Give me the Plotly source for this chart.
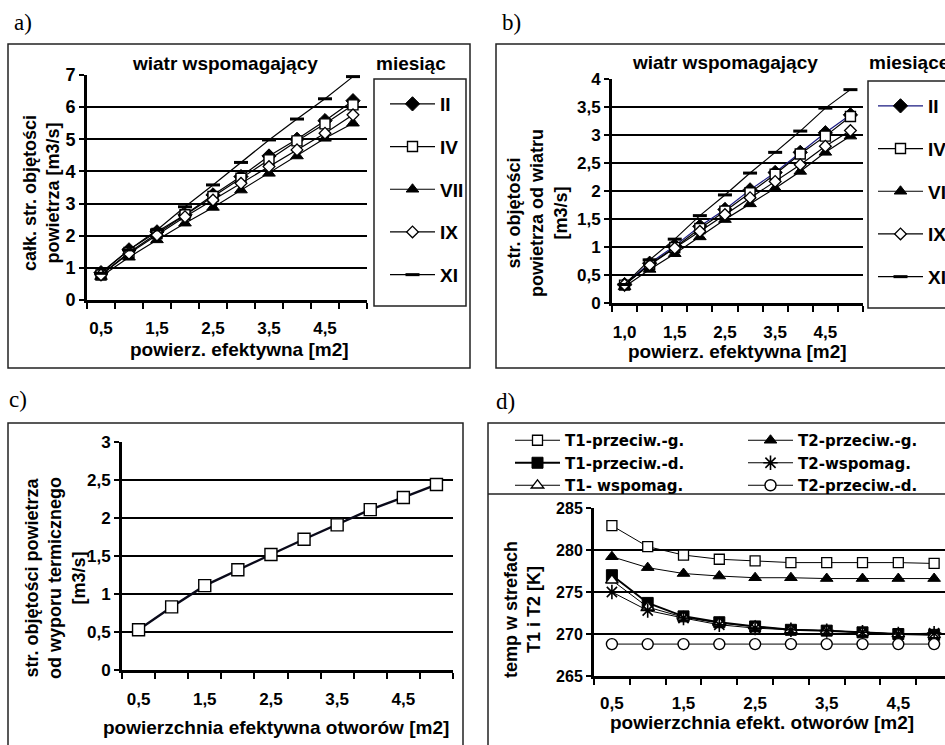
import plotly.graph_objects as go

W, H = 945, 745


def px(x):
    return x / W


def py(y):
    return 1 - y / H


# ---------------- data ----------------
area = [0.5, 1.0, 1.5, 2.0, 2.5, 3.0, 3.5, 4.0, 4.5, 5.0]
label_ticks = [0.5, 1.5, 2.5, 3.5, 4.5]
a_tick_labels = ["0,5", "1,5", "2,5", "3,5", "4,5"]
b_tick_labels = ["1,0", "1,5", "2,5", "3,5", "4,5"]
c_tick_labels = ["0,5", "1,5", "2,5", "3,5", "4,5"]
d_tick_labels = ["0,5", "1,5", "2,5", "3,5", "4,5"]

months = ["II", "IV", "VII", "IX", "XI"]

# a) total air volume flow, assisting wind [m3/s]
a_II = [0.85, 1.56, 2.12, 2.65, 3.27, 3.84, 4.48, 5.00, 5.58, 6.20]
a_IV = [0.78, 1.48, 2.07, 2.65, 3.22, 3.79, 4.36, 4.95, 5.48, 6.07]
a_VII = [0.73, 1.33, 1.87, 2.39, 2.88, 3.42, 3.94, 4.48, 5.03, 5.50]
a_IX = [0.78, 1.45, 2.02, 2.59, 3.11, 3.63, 4.15, 4.67, 5.19, 5.76]
a_XI = [0.83, 1.56, 2.18, 2.90, 3.58, 4.28, 4.98, 5.63, 6.26, 6.95]

# b) air volume flow from wind [m3/s]
b_II = [0.33, 0.71, 1.02, 1.37, 1.67, 2.02, 2.33, 2.69, 3.04, 3.36]
b_IV = [0.32, 0.69, 0.99, 1.33, 1.64, 1.97, 2.30, 2.66, 2.98, 3.33]
b_VII = [0.29, 0.60, 0.88, 1.18, 1.49, 1.77, 2.05, 2.35, 2.69, 2.98]
b_IX = [0.33, 0.68, 0.98, 1.28, 1.58, 1.88, 2.17, 2.47, 2.80, 3.08]
b_XI = [0.33, 0.77, 1.14, 1.56, 1.93, 2.32, 2.69, 3.07, 3.48, 3.81]

# c) air volume flow from thermal buoyancy [m3/s]
c_flow = [0.53, 0.83, 1.11, 1.32, 1.52, 1.72, 1.91, 2.11, 2.27, 2.44]

# d) zone temperatures [K]
d_names = ["T1-przeciw.-g.", "T1-przeciw.-d.", "T1- wspomag.",
           "T2-przeciw.-g.", "T2-wspomag.", "T2-przeciw.-d."]
d_T1_pg = [282.9, 280.4, 279.4, 278.9, 278.7, 278.5, 278.5, 278.5, 278.5, 278.4]
d_T1_pd = [277.0, 273.7, 272.1, 271.4, 270.9, 270.5, 270.4, 270.2, 270.0, 269.9]
d_T1_w = [276.4, 273.2, 272.0, 271.3, 270.9, 270.5, 270.4, 270.2, 270.0, 269.9]
d_T2_pg = [279.2, 277.9, 277.2, 276.9, 276.7, 276.7, 276.6, 276.6, 276.6, 276.6]
d_T2_w = [275.0, 272.8, 271.9, 271.1, 270.7, 270.5, 270.4, 270.2, 270.0, 270.1]
d_T2_pd = [268.8, 268.8, 268.8, 268.8, 268.8, 268.8, 268.8, 268.8, 268.8, 268.8]

# ---------------- styles ----------------
SANS = "Liberation Sans, Arial, sans-serif"
WIDE = "DejaVu Sans, Verdana, sans-serif"
SERIF = "Liberation Serif, Times New Roman, serif"
BLACK = "#000000"

month_markers = {
    "II": dict(symbol="diamond", size=11, color=BLACK, line=dict(width=1, color=BLACK)),
    "IV": dict(symbol="square", size=10, color="white", line=dict(width=1.4, color=BLACK)),
    "VII": dict(symbol="triangle-up", size=11, color=BLACK, line=dict(width=1, color=BLACK)),
    "IX": dict(symbol="diamond", size=9, color="white", line=dict(width=1.3, color=BLACK)),
    "XI": dict(symbol="line-ew", size=10, color=BLACK, line=dict(width=3, color=BLACK)),
}

fig = go.Figure()


def add(x, y, name, xa, ya, legend, marker, line, showlegend=True, group=None):
    fig.add_trace(go.Scatter(
        x=x, y=y, name=name, mode="lines+markers", xaxis=xa, yaxis=ya,
        legend=legend, legendgroup=group or (legend + name), showlegend=showlegend,
        marker=marker, line=line, hoverinfo="x+y+name"))


a_series = [a_II, a_IV, a_VII, a_IX, a_XI]
for m, ys in zip(months, a_series):
    add(area, ys, m, "x", "y", "legend", month_markers[m], dict(color=BLACK, width=1.2))

b_series = [b_II, b_IV, b_VII, b_IX, b_XI]
for m, ys in zip(months, b_series):
    col = "#1a1a80" if m == "II" else BLACK
    add(area, ys, m, "x2", "y2", "legend2", month_markers[m], dict(color=col, width=1.2))

add(area, c_flow, "wypór termiczny", "x3", "y3", "legend",
    dict(symbol="square", size=12, color="white", line=dict(width=1.4, color=BLACK)),
    dict(color="#0a0a1a", width=2.4), showlegend=False)

d_markers = [
    dict(symbol="square", size=10, color="white", line=dict(width=1.3, color=BLACK)),
    dict(symbol="square", size=11, color=BLACK, line=dict(width=1, color=BLACK)),
    dict(symbol="triangle-up", size=11, color="white", line=dict(width=1.3, color=BLACK)),
    dict(symbol="triangle-up", size=11, color=BLACK, line=dict(width=1, color=BLACK)),
    dict(symbol="asterisk", size=12, color=BLACK, line=dict(width=1.6, color=BLACK)),
    dict(symbol="circle", size=11, color="white", line=dict(width=1.4, color=BLACK)),
]
d_series = [d_T1_pg, d_T1_pd, d_T1_w, d_T2_pg, d_T2_w, d_T2_pd]
d_widths = [1, 2, 1, 1, 1, 1]
for i, (nm, ys) in enumerate(zip(d_names, d_series)):
    leg = "legend3" if i < 3 else "legend4"
    add(area, ys, nm, "x4", "y4", leg, d_markers[i], dict(color=BLACK, width=d_widths[i]))


# ---------------- axes ----------------
def tfont(size):
    return dict(family=SANS, size=size, color=BLACK, weight="bold")


def xaxis(dom, anchor, rng, ticktext, size=17, standoff=12):
    return dict(domain=dom, anchor=anchor, range=rng, tickmode="array",
                tickvals=label_ticks, ticktext=ticktext, ticks="",
                ticklabelstandoff=standoff, tickfont=tfont(size), showgrid=False,
                zeroline=False, showline=True, linecolor=BLACK, linewidth=3,
                minor=dict(tick0=0.25, dtick=0.5, ticks="outside", ticklen=6,
                           tickwidth=2, tickcolor=BLACK, showgrid=False),
                fixedrange=True)


def yaxis(dom, anchor, rng, dtick, size=17):
    return dict(domain=dom, anchor=anchor, range=rng, dtick=dtick, tick0=rng[0],
                ticks="outside", ticklen=5, tickwidth=2, tickcolor=BLACK,
                tickfont=tfont(size), showgrid=True, gridcolor=BLACK, gridwidth=1.5,
                zeroline=False, showline=True, linecolor=BLACK, linewidth=3,
                fixedrange=True)


fig.update_layout(
    xaxis=xaxis([px(87), px(367)], "y", [0.25, 5.25], a_tick_labels, size=17, standoff=11),
    yaxis=yaxis([py(300), py(75)], "x", [0, 7], 1, size=18),
    xaxis2=xaxis([px(612), px(863)], "y2", [0.25, 5.25], b_tick_labels),
    yaxis2=yaxis([py(303), py(79)], "x2", [0, 4], 0.5),
    xaxis3=xaxis([px(122), px(453)], "y3", [0.25, 5.25], c_tick_labels),
    yaxis3=yaxis([py(670), py(442)], "x3", [0, 3], 0.5),
    xaxis4=xaxis([px(594), 1.0], "y4", [0.25, 5.152], d_tick_labels, standoff=10),
    yaxis4=yaxis([py(676), py(508)], "x4", [265, 285], 5, size=16),
)

legfont = dict(family=SANS, size=19, color=BLACK, weight="bold")
dlegfont = dict(family=WIDE, size=15, color=BLACK, weight="bold")
common_leg = dict(xanchor="left", yanchor="top", bgcolor="rgba(0,0,0,0)",
                  borderwidth=0, traceorder="grouped", itemwidth=45,
                  itemclick=False, itemdoubleclick=False)
fig.update_layout(
    legend=dict(x=px(385), y=py(85), font=legfont, tracegroupgap=15, **common_leg),
    legend2=dict(x=px(873), y=py(87), font=legfont, tracegroupgap=15, **common_leg),
    legend3=dict(x=px(510), y=py(424), font=dlegfont, tracegroupgap=0, **common_leg),
    legend4=dict(x=px(743), y=py(424), font=dlegfont, tracegroupgap=0, **common_leg),
)

# ---------------- frames ----------------
frame = dict(type="rect", xref="paper", yref="paper", line=dict(color="#222222", width=1.5),
             fillcolor="rgba(0,0,0,0)", layer="below")
shapes = [
    dict(x0=px(8), x1=px(470), y0=py(368), y1=py(44), **frame),
    dict(x0=px(496), x1=1.02, y0=py(368), y1=py(44), **frame),
    dict(x0=px(8), x1=px(463), y0=-0.05, y1=py(423), **frame),
    dict(x0=px(488), x1=1.02, y0=-0.05, y1=py(423), **frame),
    dict(x0=px(374), x1=px(466), y0=py(306), y1=py(79), **frame),
    dict(x0=px(868), x1=1.02, y0=py(308), y1=py(81), **frame),
    dict(type="line", xref="paper", yref="paper", x0=px(488), x1=1.02,
         y0=py(494), y1=py(494), line=dict(color="#222222", width=1.5)),
]


# ---------------- texts ----------------
def ann(text, x, y, size=19, angle=0, family=SANS, bold=True, xanchor="center"):
    f = dict(family=family, size=size, color=BLACK)
    if bold:
        f["weight"] = "bold"
    return dict(text=text, x=px(x), y=py(y), xref="paper", yref="paper",
                showarrow=False, textangle=angle, xanchor=xanchor, yanchor="middle",
                font=f)


annotations = [
    ann("a)", 23, 22, size=23, family=SERIF, bold=False),
    ann("b)", 511, 22, size=23, family=SERIF, bold=False),
    ann("c)", 18, 399, size=23, family=SERIF, bold=False),
    ann("d)", 505, 401, size=23, family=SERIF, bold=False),
    ann("wiatr wspomagający", 225, 63, size=19),
    ann("miesiąc", 374, 63, size=19, xanchor="left"),
    ann("wiatr wspomagający", 725, 62, size=19),
    ann("miesiące", 867, 62, size=19, xanchor="left"),
    ann("całk. str. objętości<br>powietrza [m3/s]", 41, 193, size=18, angle=-90),
    ann("powierz. efektywna [m2]", 239, 349, size=19),
    ann("str. objętości<br>powietrza od wiatru<br>[m3/s]", 538, 213, size=18, angle=-90),
    ann("powierz. efektywna [m2]", 737, 352, size=19),
    ann("str. objętości powietrza<br>od wyporu termicznego<br>[m3/s]", 55, 578, size=18, angle=-90),
    ann("powierzchnia efektywna otworów [m2]", 276, 727, size=19),
    ann("temp w strefach<br>T1 i T2 [K]", 522, 610, size=18, angle=-90),
    ann("powierzchnia efekt. otworów [m2]", 762, 722, size=19),
]

fig.update_layout(
    width=W, height=H, margin=dict(l=0, r=0, t=0, b=0, autoexpand=False),
    paper_bgcolor="white", plot_bgcolor="white", separators=", ",
    shapes=shapes, annotations=annotations, showlegend=True,
    font=dict(family=SANS, color=BLACK),
)

fig.write_html("out.html", config={"displayModeBar": False},
               post_script="document.body.style.margin='0';document.body.style.overflow='hidden';")
